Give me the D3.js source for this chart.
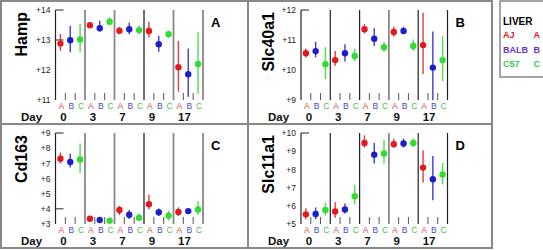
<!DOCTYPE html>
<html>
<head>
<meta charset="utf-8">
<script src="https://cdn.jsdelivr.net/npm/d3@7"></script>
<style>
body { margin: 0; background: #fff; }
svg text { font-family: "Liberation Sans", Arial, sans-serif; }
</style>
</head>
<body>
<div id="canvas"></div>
<script>
"use strict";

/* ---------------- DATA ---------------- */

let days = ["0", "3", "7", "9", "17"];
let strains = ["A", "B", "C"];

// values go day by day, strain A, B, C inside each day
let hampMean = [12.88, 12.99, 13.02, 13.49, 13.39, 13.61, 13.31, 13.36, 13.33, 13.30, 12.86, 13.19, 12.09, 11.86, 12.20];
let hampLow  = [12.64, 12.59, 12.59, 13.41, 13.28, 13.53, 13.19, 13.19, 13.19, 13.08, 12.61, 13.08, 11.28, 11.11, 11.20];
let hampHigh = [13.20, 13.47, 13.53, 13.58, 13.64, 13.76, 13.44, 13.58, 13.48, 13.61, 13.14, 13.31, 12.97, 12.72, 13.26];

let slc40Mean = [10.56, 10.63, 10.19, 10.33, 10.56, 10.47, 11.36, 11.04, 10.76, 11.27, 11.30, 10.80, 10.83, 10.08, 10.33];
let slc40Low  = [10.42, 10.42, 9.70, 10.14, 10.28, 10.28, 11.22, 10.80, 10.61, 11.11, 11.20, 10.64, 9.87, 9.00, 9.63];
let slc40High = [10.72, 10.94, 10.76, 10.63, 10.86, 10.72, 11.53, 11.39, 10.94, 11.44, 11.44, 11.02, 11.91, 11.28, 11.13];

let cd163Mean = [7.31, 7.09, 7.25, 3.35, 3.26, 3.22, 3.92, 3.61, 3.42, 4.31, 3.77, 3.55, 3.79, 3.85, 3.96];
let cd163Low  = [6.99, 6.72, 6.37, 3.22, 3.13, 3.11, 3.59, 3.33, 3.22, 3.96, 3.53, 3.22, 3.53, 3.66, 3.59];
let cd163High = [7.71, 7.64, 8.30, 3.48, 3.39, 3.37, 4.20, 3.92, 3.68, 4.93, 4.03, 3.88, 4.10, 4.00, 4.51];

let slc11Mean = [5.53, 5.55, 5.77, 5.69, 5.80, 6.53, 9.45, 8.81, 8.87, 9.38, 9.42, 9.45, 8.10, 7.46, 7.72];
let slc11Low  = [5.27, 5.27, 5.46, 5.35, 5.58, 6.08, 9.20, 8.32, 8.32, 9.20, 9.20, 9.23, 7.28, 6.31, 7.17];
let slc11High = [5.86, 5.91, 6.17, 6.20, 6.13, 7.14, 9.87, 9.45, 9.64, 9.69, 9.69, 9.69, 9.05, 8.74, 8.36];

let legendNames = ["AJ", "BALB", "C57"];

/* ---------------- SETUP ---------------- */

let svgWidth = 543;
let svgHeight = 250;

let pointColors = { A: "#e3191f", B: "#1d1dcc", C: "#2fdc2f" };
let labelColors = { A: "#e04848", B: "#4848d8", C: "#3cc83c" };
let legendColors = ["#e3191f", "#6633cc", "#33cc55"];

let svg = d3.select("#canvas")
    .append("svg")
    .attr("width", svgWidth)
    .attr("height", svgHeight);

/* Frame */
svg.append("rect")
    .attr("x", 1).attr("y", 1)
    .attr("width", 491).attr("height", 247)
    .attr("fill", "none")
    .attr("stroke", "#888")
    .attr("stroke-width", 2);

svg.append("line")
    .attr("x1", 248).attr("x2", 248).attr("y1", 1).attr("y2", 248)
    .attr("stroke", "#888").attr("stroke-width", 2);

svg.append("line")
    .attr("x1", 1).attr("x2", 492).attr("y1", 124).attr("y2", 124)
    .attr("stroke", "#888").attr("stroke-width", 2);

let panels = [
    { gene: "Hamp", letter: "A", mean: hampMean, low: hampLow, high: hampHigh,
      domain: [11, 14], x0: 55.5, x1: 203, y0: 10, y1: 100, top: 1, left: 1,
      extraTick: 13, divColors: ["#888", "#888", "#111", "#888", "#888"] },
    { gene: "Slc40a1", letter: "B", mean: slc40Mean, low: slc40Low, high: slc40High,
      domain: [9, 12], x0: 301, x1: 447.5, y0: 10, y1: 100, top: 1, left: 248,
      extraTick: null, divColors: ["#222", "#222", "#888", "#222", "#222"] },
    { gene: "Cd163", letter: "C", mean: cd163Mean, low: cd163Low, high: cd163High,
      domain: [3, 9], x0: 55.5, x1: 203, y0: 133, y1: 224, top: 124, left: 1,
      extraTick: 4, divColors: ["#888", "#888", "#111", "#888", "#888"] },
    { gene: "Slc11a1", letter: "D", mean: slc11Mean, low: slc11Low, high: slc11High,
      domain: [5, 10], x0: 301, x1: 447.5, y0: 133, y1: 224, top: 124, left: 248,
      extraTick: null, divColors: ["#222", "#222", "#888", "#222", "#222"] }
];

panels.forEach(drawPanel);
drawLegend();

/* ---------------- PANEL ---------------- */

function drawPanel(p) {

    let g = svg.append("g");

    let xDay = d3.scaleBand().domain(days).range([p.x0, p.x1]);
    let xStrain = d3.scaleBand().domain(strains).range([0, xDay.bandwidth()]);
    let y = d3.scaleLinear().domain(p.domain).range([p.y1, p.y0]);

    // y axis labels
    let yAxis = d3.axisLeft(y)
        .tickValues(d3.range(p.domain[0], p.domain[1] + 1))
        .tickFormat(function (d) { return "+" + d; })
        .tickSize(0)
        .tickPadding(5);

    let ax = g.append("g")
        .attr("transform", "translate(" + p.x0 + ",0)")
        .call(yAxis);
    ax.select(".domain").remove();
    ax.selectAll("text")
        .attr("font-size", "8.5px")
        .attr("fill", "#222")
        .style("font-family", "'Liberation Sans', Arial, sans-serif");

    // axis line + little ticks
    g.append("line")
        .attr("x1", p.x0).attr("x2", p.x0)
        .attr("y1", p.y0).attr("y2", p.y1)
        .attr("stroke", "#222").attr("stroke-width", 1.2);

    g.append("line")
        .attr("x1", p.x0).attr("x2", p.x0 + 8)
        .attr("y1", y(p.domain[1])).attr("y2", y(p.domain[1]))
        .attr("stroke", "#222").attr("stroke-width", 1);

    if (p.extraTick !== null) {
        g.append("line")
            .attr("x1", p.x0).attr("x2", p.x0 + 8)
            .attr("y1", y(p.extraTick)).attr("y2", y(p.extraTick))
            .attr("stroke", "#222").attr("stroke-width", 1);
    }

    // day dividers
    days.forEach(function (d, i) {
        let x = xDay(d) + xDay.bandwidth();
        g.append("line")
            .attr("x1", x).attr("x2", x)
            .attr("y1", p.y0).attr("y2", p.y1)
            .attr("stroke", p.divColors[i])
            .attr("stroke-width", p.divColors[i] === "#888" ? 1.8 : 1.2);

        // short ticks between strains
        ["B", "C"].forEach(function (s) {
            let tx = xDay(d) + xStrain(s);
            g.append("line")
                .attr("x1", tx).attr("x2", tx)
                .attr("y1", p.y1 - 7).attr("y2", p.y1)
                .attr("stroke", "#555").attr("stroke-width", 1);
        });

        // strain letters
        strains.forEach(function (s) {
            g.append("text")
                .attr("x", xDay(d) + xStrain(s) + xStrain.bandwidth() / 2 + 1)
                .attr("y", p.y1 + 9)
                .attr("text-anchor", "middle")
                .attr("font-size", "8.5px")
                .attr("fill", labelColors[s])
                .text(s);
        });

        // day number
        g.append("text")
            .attr("x", xDay(d) + xStrain.bandwidth() / 2 + (d.length > 1 ? 6 : 3))
            .attr("y", p.y1 + 20.5)
            .attr("text-anchor", "middle")
            .attr("font-size", "11.5px")
            .attr("font-weight", "bold")
            .attr("fill", "#111")
            .text(d);
    });

    g.append("text")
        .attr("x", p.left + 20)
        .attr("y", p.y1 + 20.5)
        .attr("font-size", "11.5px")
        .attr("font-weight", "bold")
        .attr("fill", "#111")
        .text("Day");

    // error bars and points
    days.forEach(function (d, i) {
        strains.forEach(function (s, j) {
            let k = i * 3 + j;
            let cx = xDay(d) + xStrain(s) + xStrain.bandwidth() / 2;

            g.append("line")
                .attr("x1", cx).attr("x2", cx)
                .attr("y1", y(p.low[k])).attr("y2", y(p.high[k]))
                .attr("stroke", pointColors[s])
                .attr("stroke-width", 1.4)
                .attr("opacity", 0.85);

            g.append("circle")
                .attr("cx", cx)
                .attr("cy", y(p.mean[k]))
                .attr("r", 3.2)
                .attr("fill", pointColors[s]);
        });
    });

    // gene title
    g.append("text")
        .attr("transform", "translate(" + (p.left + 26) + "," + (p.top + 11) + ") rotate(-90)")
        .attr("text-anchor", "end")
        .attr("font-size", "16px")
        .attr("font-weight", "bold")
        .attr("fill", "#000")
        .text(p.gene);

    // panel letter
    g.append("text")
        .attr("x", p.x1 + 8)
        .attr("y", p.top + 26)
        .attr("font-size", "13px")
        .attr("font-weight", "bold")
        .attr("fill", "#000")
        .text(p.letter);
}

/* ---------------- LEGEND ---------------- */

function drawLegend() {

    let g = svg.append("g");

    g.append("rect")
        .attr("x", 500).attr("y", 1)
        .attr("width", 60).attr("height", 76)
        .attr("fill", "#fff")
        .attr("stroke", "#888")
        .attr("stroke-width", 1.5);

    g.append("text")
        .attr("x", 503).attr("y", 25)
        .attr("font-size", "10px")
        .attr("font-weight", "bold")
        .attr("fill", "#000")
        .text("LIVER");

    let rowY = [38, 53, 67];

    legendNames.forEach(function (name, i) {
        g.append("text")
            .attr("x", 503).attr("y", rowY[i])
            .attr("font-size", "9px")
            .attr("font-weight", "bold")
            .attr("fill", legendColors[i])
            .text(name);

        g.append("text")
            .attr("x", 540).attr("y", rowY[i])
            .attr("text-anchor", "end")
            .attr("font-size", "9px")
            .attr("font-weight", "bold")
            .attr("fill", legendColors[i])
            .text(strains[i]);
    });
}
</script>
</body>
</html>
